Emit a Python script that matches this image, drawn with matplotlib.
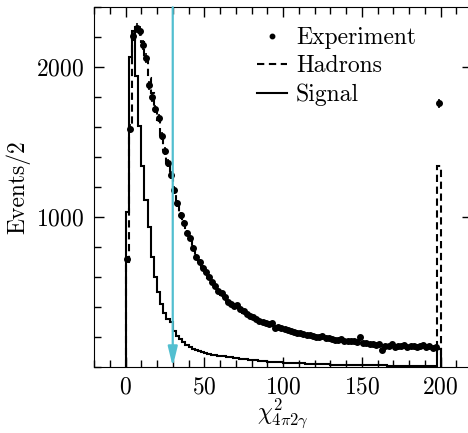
import numpy as np
import matplotlib
matplotlib.use("Agg")
import matplotlib.pyplot as plt
from matplotlib.ticker import MultipleLocator, FixedLocator

plt.rcParams['font.family'] = 'serif'
plt.rcParams['font.serif'] = ['cmr10']
plt.rcParams['mathtext.fontset'] = 'cm'
plt.rcParams['axes.formatter.use_mathtext'] = True
plt.rcParams['font.size'] = 17

# bins of width 2 from 0 to 200, last bin holds the overflow
edges = np.arange(0, 202, 2)
centers = edges[:-1] + 1

experiment = [
    720, 1590, 2210, 2260, 2240, 2150, 2060, 1880, 1800, 1720,
    1660, 1540, 1440, 1360, 1280, 1180, 1090, 1010, 960, 890,
    860, 790, 730, 700, 660, 630, 600, 565, 540, 505,
    490, 465, 430, 415, 405, 410, 385, 370, 350, 335,
    330, 315, 305, 300, 290, 282, 290, 255, 265, 255,
    250, 243, 238, 232, 225, 222, 218, 212, 208, 205,
    200, 198, 205, 192, 190, 185, 180, 178, 182, 172,
    170, 168, 172, 165, 195, 158, 155, 150, 152, 145,
    150, 112, 140, 138, 150, 132, 140, 135, 142, 130,
    138, 140, 128, 135, 145, 130, 138, 125, 128, 1760,
]

hadrons = [
    700, 1600, 2180, 2270, 2250, 2170, 2060, 1930, 1830, 1740,
    1650, 1550, 1450, 1360, 1270, 1180, 1100, 1030, 960, 900,
    850, 790, 740, 700, 660, 625, 590, 560, 530, 505,
    480, 460, 440, 420, 405, 390, 375, 360, 348, 336,
    325, 315, 305, 297, 289, 280, 273, 266, 260, 254,
    248, 242, 237, 232, 227, 222, 218, 214, 210, 206,
    202, 198, 195, 191, 188, 185, 182, 179, 176, 173,
    170, 167, 165, 162, 160, 157, 155, 153, 150, 148,
    146, 144, 142, 140, 138, 137, 135, 133, 132, 130,
    129, 128, 126, 125, 124, 123, 122, 121, 120, 1340,
]

signal = [
    1030, 2070, 2240, 1940, 1610, 1340, 1115, 935, 735, 600,
    500, 420, 360, 315, 300, 235, 205, 185, 165, 145,
    130, 120, 112, 104, 98, 93, 86, 80, 76, 74,
    71, 70, 66, 62, 60, 57, 52, 50, 48, 46,
    43, 41, 38, 37, 35, 34, 32, 31, 30, 28,
    27, 26, 25, 24, 24, 22, 21, 20, 19, 18,
    18, 17, 16, 15, 15, 14, 14, 13, 13, 12,
    12, 11, 11, 10, 10, 10, 9, 9, 9, 8,
    8, 8, 8, 7, 7, 7, 7, 6, 6, 6,
    6, 6, 5, 5, 5, 5, 5, 5, 5, 120,
]

cut = 30

fig = plt.figure(figsize=(4.68, 4.33), dpi=100)
ax = fig.add_axes([94 / 468, 1 - 366.6 / 433, (472 - 94) / 468, (366.6 - 7.3) / 433])

ax.stairs(signal, edges, color='black', lw=1.5, label='Signal')
ax.stairs(hadrons, edges, color='black', lw=1.5, linestyle=(0, (3.5, 2.2)), label='Hadrons')
exp = np.array(experiment)
ax.errorbar(centers, exp, yerr=np.sqrt(exp) * 0.7, fmt='none', ecolor='black', elinewidth=1.2)
ax.plot(centers, exp, 'o', color='black', ms=4, label='Experiment')

ax.annotate('', xy=(cut, 0), xytext=(cut, 2400),
            arrowprops=dict(arrowstyle='-|>,head_length=0.7,head_width=0.17',
                            color='#52bfd0', lw=1.6, shrinkA=0, shrinkB=0))

ax.set_xlim(-20, 220)
ax.set_ylim(0, 2400)
ax.xaxis.set_major_locator(MultipleLocator(50))
ax.xaxis.set_minor_locator(MultipleLocator(10))
ax.yaxis.set_major_locator(FixedLocator([1000, 2000]))
ax.yaxis.set_minor_locator(MultipleLocator(200))
ax.tick_params(which='both', direction='in', top=True, right=True)
ax.tick_params(which='major', length=7, width=1, pad=7)
ax.tick_params(which='minor', length=5, width=1)
ax.tick_params(axis='y', which='minor', right=False)

ax.set_xlabel(r'$\chi^2_{4\pi2\gamma}$', labelpad=-1)
ax.set_ylabel('Events/2', labelpad=4)

handles, labels = ax.get_legend_handles_labels()
order = [labels.index(l) for l in ['Experiment', 'Hadrons', 'Signal']]
ax.legend([handles[i] for i in order], [labels[i] for i in order],
          loc='upper left', bbox_to_anchor=(257 / 468, 1 - 27 / 433),
          bbox_transform=fig.transFigure, frameon=False, borderpad=0,
          borderaxespad=0, handlelength=1.25, handletextpad=0.4,
          labelspacing=0.26, markerscale=0.8)

fig.savefig('out.png', dpi=100)
